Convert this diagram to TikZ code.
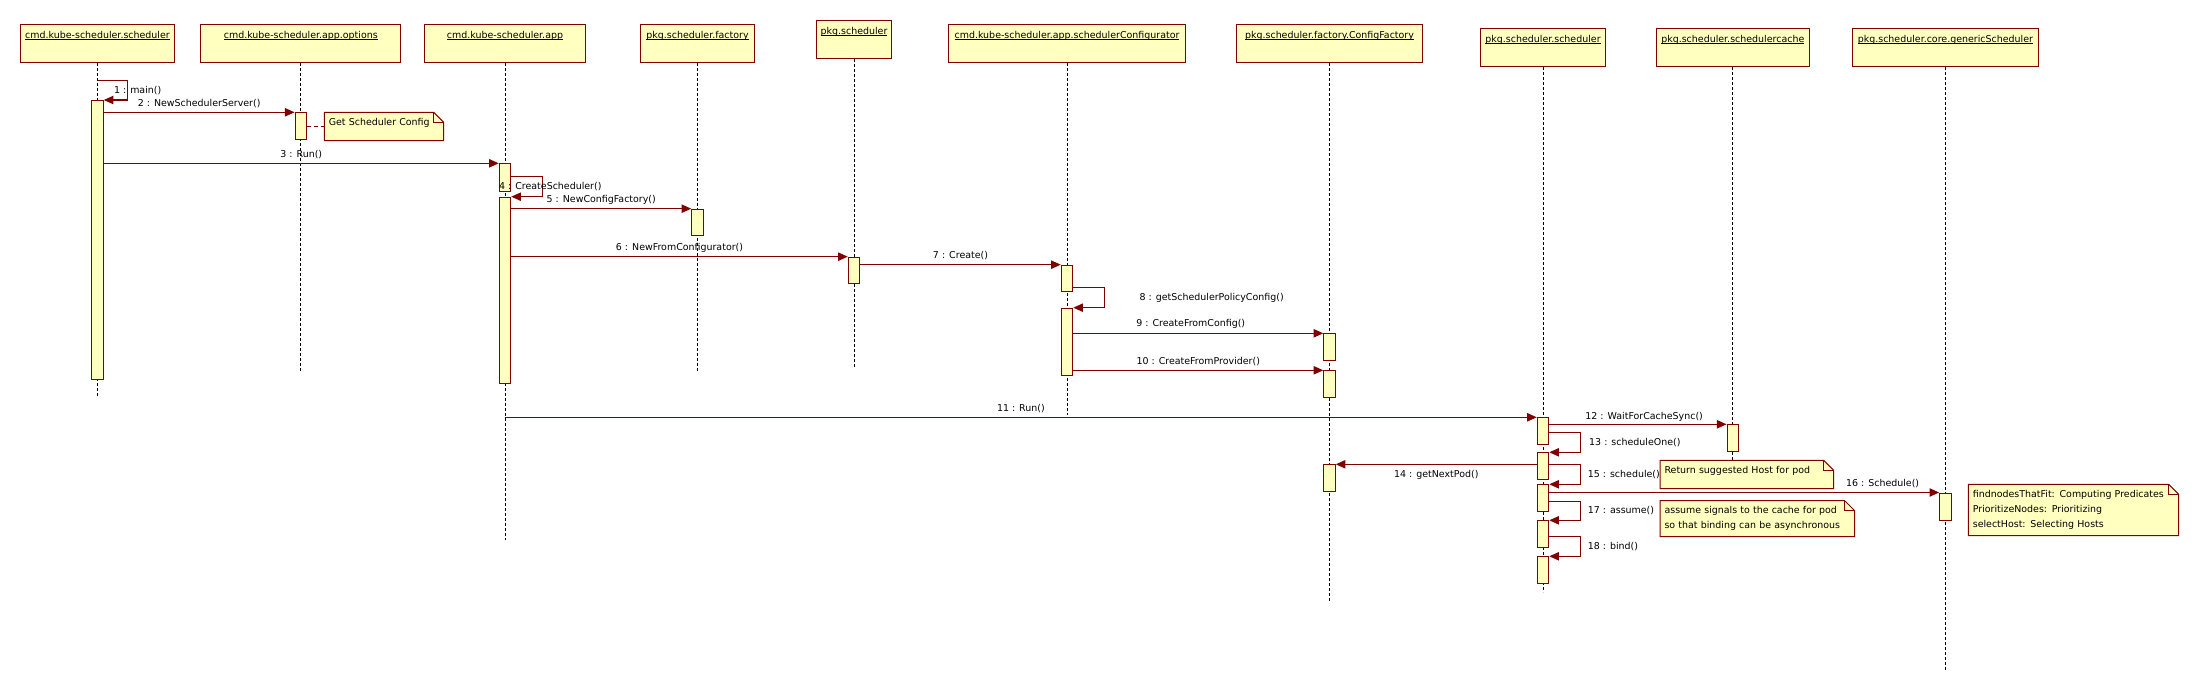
\documentclass[tikz,border=0pt]{standalone}
\usepackage{fontspec}
\newfontfamily\umlfont{DejaVu Sans}
\usepackage{tikz}
\usetikzlibrary{arrows.meta}
\definecolor{umlred}{RGB}{128,0,0}
\definecolor{umlfill}{RGB}{255,255,192}
\newcommand\objname[1]{\setbox0=\hbox{#1}\rlap{\rule[-1.5pt]{\wd0}{0.7pt}}\box0}

\begin{document}
\begin{tikzpicture}[x=1pt,y=-1pt,
  every node/.style={font=\umlfont\fontsize{9.46}{15}\selectfont},
  obj/.style={draw=umlred,fill=umlfill,line width=1pt,anchor=north,inner xsep=1pt,inner ysep=0pt,text height=13.6pt,text depth=24.4pt},
  life/.style={dash pattern=on 3pt off 2pt,line width=0.9pt},
  act/.style={draw=umlred,fill=umlfill,line width=1pt,anchor=north,inner sep=0pt,minimum width=11.5pt},
  msg/.style={draw=umlred,line width=1.1pt,-{Triangle[length=9.6pt,width=8.3pt]}},
  lbl/.style={inner sep=0pt,yshift=9pt},
  looplbl/.style={inner sep=0pt,anchor=west,pos=0.25},
  notebox/.style={fill=umlfill,anchor=north west,inner xsep=4.3pt,inner ysep=0pt,align=left},
  noteline/.style={draw=umlred,line width=1pt}]
  \useasboundingbox (0,0) rectangle (2199,692);

  % objects
  \node[obj,minimum width=154pt] (h1) at (97.5,24) {\objname{cmd.kube-scheduler.scheduler}};
  \node[obj,minimum width=200pt] (h2) at (300.8,24) {\objname{cmd.kube-scheduler.app.options}};
  \node[obj,minimum width=161.4pt] (h3) at (505,24) {\objname{cmd.kube-scheduler.app}};
  \node[obj,minimum width=114pt] (h4) at (697.5,24) {\objname{pkg.scheduler.factory}};
  \node[obj,minimum width=75.4pt] (h5) at (854,20.3) {\objname{pkg.scheduler}};
  \node[obj,minimum width=237.5pt] (h6) at (1067,24) {\objname{cmd.kube-scheduler.app.schedulerConfigurator}};
  \node[obj,minimum width=186pt] (h7) at (1329.5,24) {\objname{pkg.scheduler.factory.ConfigFactory}};
  \node[obj,minimum width=125.3pt] (h8) at (1543,28.3) {\objname{pkg.scheduler.scheduler}};
  \node[obj,minimum width=153.2pt] (h9) at (1732.8,28.3) {\objname{pkg.scheduler.schedulercache}};
  \node[obj,minimum width=186pt] (h10) at (1945.4,28.3) {\objname{pkg.scheduler.core.genericScheduler}};

  % notes
  \node[notebox,text width=110.3pt,minimum height=28pt,text height=7pt,text depth=8.5pt] (n1) at (324.3,112.3) {Get Scheduler Config};
  \node[notebox,text width=164.7pt,minimum height=28pt,text height=7pt,text depth=8.5pt] (n2) at (1660,460.3) {Return suggested Host for pod};
  \node[notebox,text width=185.7pt,minimum height=35.6pt] (n3) at (1660,500.7) {assume signals to the cache for pod\\so that binding can be asynchronous};
  \node[notebox,text width=201.4pt,minimum height=51pt] (n4) at (1968.3,484.3) {findnodesThatFit: Computing Predicates\\PrioritizeNodes: Prioritizing\\selectHost: Selecting Hosts};

  \fill[white] ([xshift=-10pt]n1.north east) -- (n1.north east) -- ([yshift=-10pt]n1.north east) -- cycle;
  \draw[noteline] (n1.north west) -- ([xshift=-10pt]n1.north east) -- ([yshift=-10pt]n1.north east) -- (n1.south east) -- (n1.south west) -- cycle;
  \draw[noteline] ([xshift=-10pt]n1.north east) |- ([yshift=-10pt]n1.north east);
  \fill[white] ([xshift=-10pt]n2.north east) -- (n2.north east) -- ([yshift=-10pt]n2.north east) -- cycle;
  \draw[noteline] (n2.north west) -- ([xshift=-10pt]n2.north east) -- ([yshift=-10pt]n2.north east) -- (n2.south east) -- (n2.south west) -- cycle;
  \draw[noteline] ([xshift=-10pt]n2.north east) |- ([yshift=-10pt]n2.north east);
  \fill[white] ([xshift=-10pt]n3.north east) -- (n3.north east) -- ([yshift=-10pt]n3.north east) -- cycle;
  \draw[noteline] (n3.north west) -- ([xshift=-10pt]n3.north east) -- ([yshift=-10pt]n3.north east) -- (n3.south east) -- (n3.south west) -- cycle;
  \draw[noteline] ([xshift=-10pt]n3.north east) |- ([yshift=-10pt]n3.north east);
  \fill[white] ([xshift=-10pt]n4.north east) -- (n4.north east) -- ([yshift=-10pt]n4.north east) -- cycle;
  \draw[noteline] (n4.north west) -- ([xshift=-10pt]n4.north east) -- ([yshift=-10pt]n4.north east) -- (n4.south east) -- (n4.south west) -- cycle;
  \draw[noteline] ([xshift=-10pt]n4.north east) |- ([yshift=-10pt]n4.north east);

  % lifelines
  \draw[life] (h1.south) -- (h1.south |- 0,396.7);
  \draw[life] (h2.south) -- (h2.south |- 0,372.7);
  \draw[life] (h3.south) -- (h3.south |- 0,540);
  \draw[life] (h4.south) -- (h4.south |- 0,372.7);
  \draw[life] (h5.south) -- (h5.south |- 0,368.7);
  \draw[life] (h6.south) -- (h6.south |- 0,415);
  \draw[life] (h7.south) -- (h7.south |- 0,600.7);
  \draw[life] (h8.south) -- (h8.south |- 0,592.3);
  \draw[life] (h9.south) -- (h9.south |- n2.north);
  \draw[life] (h10.south) -- (h10.south |- 0,670);

  % activations
  \node[act,minimum height=279.3pt] (a1) at (h1.south |- 0,100) {};
  \node[act,minimum height=27pt] (a2) at (h2.south |- 0,112.3) {};
  \node[act,minimum height=27.7pt] (a3a) at (h3.south |- 0,163.3) {};
  \node[act,minimum height=186.6pt] (a3b) at (h3.south |- 0,196.7) {};
  \node[act,minimum height=26.6pt] (a4) at (h4.south |- 0,208.7) {};
  \node[act,minimum height=26.6pt] (a5) at (h5.south |- 0,256.7) {};
  \node[act,minimum height=26.6pt] (a6a) at (h6.south |- 0,264.7) {};
  \node[act,minimum height=67.6pt] (a6b) at (h6.south |- 0,307.7) {};
  \node[act,minimum height=27pt] (a7a) at (h7.south |- 0,333.3) {};
  \node[act,minimum height=27pt] (a7b) at (h7.south |- 0,370.3) {};
  \node[act,minimum height=27pt] (a7c) at (h7.south |- 0,464.3) {};
  \node[act,minimum height=26.7pt] (a8a) at (h8.south |- 0,417.3) {};
  \node[act,minimum height=27pt] (a8b) at (h8.south |- 0,452.3) {};
  \node[act,minimum height=26.7pt] (a8c) at (h8.south |- 0,484.3) {};
  \node[act,minimum height=26.7pt] (a8d) at (h8.south |- 0,520.3) {};
  \node[act,minimum height=26.7pt] (a8e) at (h8.south |- 0,556.3) {};
  \node[act,minimum height=27pt] (a9) at (h9.south |- 0,424.3) {};
  \node[act,minimum height=27pt] (a10) at (h10.south |- 0,492.5) {};

  \draw[noteline,dash pattern=on 4pt off 3pt] (a2.east |- n1.west) -- (n1.west);

  % messages
  \draw[msg] (h1.south |- 0,80.3) -- ++(30,0) |- node[looplbl,xshift=-14pt]{1 : main()} (a1.north east);
  \draw[msg] (a1.east |- a2.north) -- node[lbl]{2 : NewSchedulerServer()} (a2.north west);
  \draw[msg] (a1.east |- a3a.north) -- node[lbl]{3 : Run()} (a3a.north west);
  \draw[msg] (a3a.east |- 0,176.3) -- ++(31,0) |- node[looplbl,xshift=-43.7pt]{4 : CreateScheduler()} (a3b.north east);
  \draw[msg] (a3b.east |- a4.north) -- node[lbl]{5 : NewConfigFactory()} (a4.north west);
  \draw[msg] (a3b.east |- a5.north) -- node[lbl]{6 : NewFromConfigurator()} (a5.north west);
  \draw[msg] (a5.east |- a6a.north) -- node[lbl]{7 : Create()} (a6a.north west);
  \draw[msg] (a6a.east |- 0,287.3) -- ++(31,0) |- node[looplbl,xshift=34.8pt]{8 : getSchedulerPolicyConfig()} (a6b.north east);
  \draw[msg] (a6b.east |- a7a.north) -- node[lbl,pos=0.47]{9 : CreateFromConfig()} (a7a.north west);
  \draw[msg] (a6b.east |- a7b.north) -- node[lbl]{10 : CreateFromProvider()} (a7b.north west);
  \draw[msg] (h3.south |- a8a.north) -- node[lbl]{11 : Run()} (a8a.north west);
  \draw[msg] (a8a.east |- a9.north) -- node[lbl,pos=0.535,yshift=-2pt]{12 : WaitForCacheSync()} (a9.north west);
  \draw[msg] (a8a.east |- 0,432.3) -- ++(31,0) |- node[looplbl,xshift=8.4pt]{13 : scheduleOne()} (a8b.north east);
  \draw[msg] (a8b.west |- a7c.north) -- node[lbl,yshift=-20pt]{14 : getNextPod()} (a7c.north east);
  \draw[msg] (a8b.east |- 0,464.3) -- ++(31,0) |- node[looplbl,xshift=7pt]{15 : schedule()} (a8c.north east);
  \draw[msg] (a8c.east |- a10.north) -- node[lbl,pos=0.855]{16 : Schedule()} (a10.north west);
  \draw[msg] (a8c.east |- 0,501.7) -- ++(31,0) |- node[looplbl,xshift=7pt]{17 : assume()} (a8d.north east);
  \draw[msg] (a8d.east |- 0,536.3) -- ++(31,0) |- node[looplbl,xshift=7pt]{18 : bind()} (a8e.north east);

\end{tikzpicture}
\end{document}
